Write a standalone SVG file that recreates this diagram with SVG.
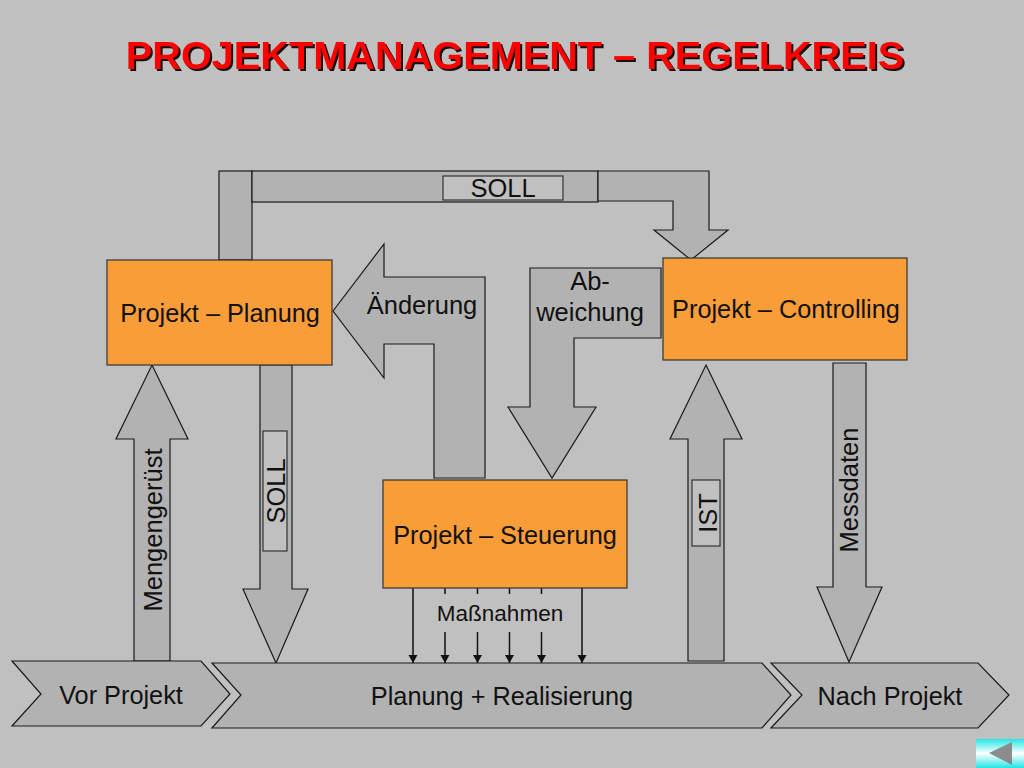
<svg xmlns="http://www.w3.org/2000/svg" width="1024" height="768" viewBox="0 0 1024 768">
<style>
.a{fill:#b2b2b2;stroke:#1a1a1a;stroke-width:1.2}
.o{fill:#f99d38;stroke:#333;stroke-width:1.2}
.l{fill:#c0c0c0;stroke:#333;stroke-width:1.2}
text{font-family:"Liberation Sans",Arial,sans-serif;fill:#111;text-anchor:middle}
.t{font-size:25.500px}
.s{font-size:25.300px}
.m{font-size:22.500px}
.h{font-size:39.700px;font-weight:bold;fill:#f00;filter:drop-shadow(2.500px 2.500px 0 #111)}
.c{stroke:#111;stroke-width:1.5;fill:none}
.d{stroke:#111;stroke-width:1.5;fill:none;marker-end:url(#ah)}
</style>
<defs>
<marker id="ah" markerUnits="userSpaceOnUse" markerWidth="10" markerHeight="10" refX="8" refY="4.500" orient="auto"><path d="M0 0L8 4.500L0 9z" fill="#111"/></marker>
<linearGradient id="g" x1="0" y1="0" x2="0" y2="1"><stop offset="0" stop-color="#22e6e6"/><stop offset=".5" stop-color="#fff"/><stop offset="1" stop-color="#22e6e6"/></linearGradient>
</defs>
<rect width="1024" height="768" fill="#c0c0c0"/>
<g id="title">
<text class="h" x="515" y="69">PROJEKTMANAGEMENT – REGELKREIS</text>
</g>
<g id="connectors">
<rect class="a" x="219" y="171" width="33" height="89"/>
<rect class="a" x="252" y="171" width="346" height="31"/>
<path class="a" d="M598 171H709V230H728L691 260L654 230H673V201H598z"/>
<path class="a" d="M333 311L384 244V277H485V478H434V344H384V378z"/>
<path class="a" d="M530 268H661V338H574V407H596L552 478L508 407H530z"/>
<path class="a" d="M260 365H292V589H308L276 663L243 589H260z"/>
<path class="a" d="M152 365L188 439H170V661H134V439H116z"/>
<path class="a" d="M706 365L742 439H724V661H688V439H670z"/>
<path class="a" d="M833 363H866V587H882L849 662L817 587H833z"/>
<path class="d" d="M413 588V663"/>
<path class="c" d="M445 588V594M477.500 588V594M509.500 588V594M541.500 588V594"/>
<path class="d" d="M445 632V663"/>
<path class="d" d="M477.500 632V663"/>
<path class="d" d="M509.500 632V663"/>
<path class="d" d="M541.500 632V663"/>
<path class="d" d="M582 588V663"/>
</g>
<g id="label-soll-top"><rect class="l" x="443" y="176" width="120" height="24"/><text class="t" x="503" y="197">SOLL</text></g>
<g id="label-soll-left"><rect class="l" x="263" y="431" width="24" height="120"/><text class="t" transform="translate(285 491) rotate(-90)">SOLL</text></g>
<g id="label-ist"><rect class="l" x="692" y="480" width="28" height="66"/><text class="t" transform="translate(717 513) rotate(-90)">IST</text></g>
<g id="label-mengengeruest"><text class="t" transform="translate(162 530) rotate(-90)">Mengengerüst</text></g>
<g id="label-messdaten"><text class="t" transform="translate(858 490) rotate(-90)">Messdaten</text></g>
<g id="label-aenderung"><text class="t" x="422" y="314">Änderung</text></g>
<g id="label-abweichung"><text class="t" x="590" y="290">Ab-</text><text class="t" x="590" y="321">weichung</text></g>
<g id="label-massnahmen"><text class="m" x="500" y="621">Maßnahmen</text></g>
<g id="node-planung"><rect class="o" x="107" y="260" width="225" height="105"/><text class="s" x="220" y="322">Projekt – Planung</text></g>
<g id="node-controlling"><rect class="o" x="663" y="258" width="244" height="102"/><text class="s" x="786" y="318">Projekt – Controlling</text></g>
<g id="node-steuerung"><rect class="o" x="383" y="480" width="244" height="108"/><text class="s" x="505" y="544">Projekt – Steuerung</text></g>
<g id="phase-vor"><path class="a" d="M12 661H201L230 694L201 726H12L41 694z"/><text class="s" x="121" y="704">Vor Projekt</text></g>
<g id="phase-planung"><path class="a" d="M212 663H762L791 695L762 728H212L241 695z"/><text class="s" x="502" y="705">Planung + Realisierung</text></g>
<g id="phase-nach"><path class="a" d="M771 663H978L1009 695L978 728H771L802 695z"/><text class="s" x="890" y="705">Nach Projekt</text></g>
<g id="back-button"><rect x="976" y="739" width="48" height="29" fill="url(#g)"/><path d="M989 753L1012 742V765z" fill="#8c8c8c"/></g>
</svg>
